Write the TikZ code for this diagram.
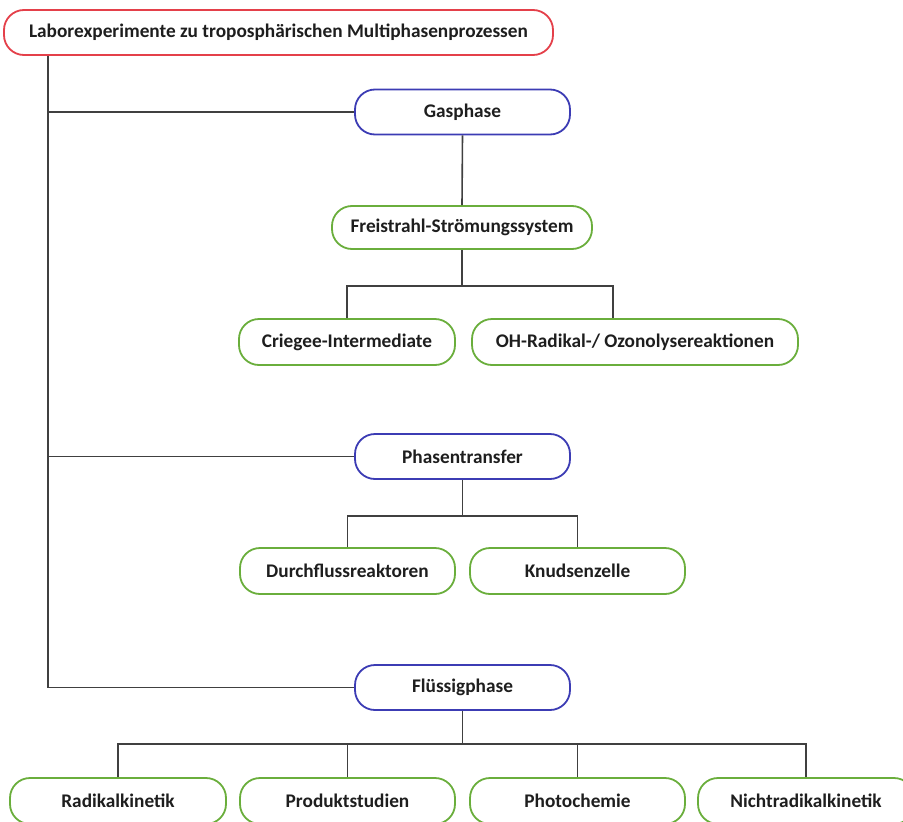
\documentclass[tikz,border=0pt]{standalone}
\usepackage{fontspec}
\setmainfont{Carlito}
\definecolor{cred}{HTML}{E4404A}
\definecolor{cblue}{HTML}{3C3CB4}
\definecolor{cgreen}{HTML}{6AAE3C}
\definecolor{cline}{HTML}{404040}
\definecolor{ctext}{HTML}{1E1E1E}
\begin{document}
\begin{tikzpicture}[x=1pt,y=-1pt,
  box/.style={draw, line width=1.8pt, rounded corners=20pt, fill=white, text=ctext,
    font=\fontsize{19.3}{22}\selectfont\bfseries, inner sep=0pt, minimum height=45pt},
  rootbox/.style={box, draw=cred},
  phasebox/.style={box, draw=cblue, minimum width=215pt},
  leafbox/.style={box, draw=cgreen},
  conn/.style={draw=cline, line width=1.6pt}]
\useasboundingbox (0,0) rectangle (903,822);
\clip (0,0) rectangle (903,822);
\node[rootbox, minimum width=549pt] (top) at (278.5,32.5) {Laborexperimente zu troposphärischen Multiphasenprozessen};
\node[phasebox] (gas) at (462.5,112) {Gasphase};
\node[leafbox, minimum width=260pt, minimum height=43pt] (frei) at (462,227.5) {Freistrahl-Strömungssystem};
\node[leafbox, minimum width=216pt, minimum height=46pt] (crie) at (347,342) {Criegee-Intermediate};
\node[leafbox, minimum width=326pt, minimum height=46pt] (oh) at (635,342) {OH-Radikal-/ Ozonolysereaktionen};
\node[phasebox] (phase) at (462.5,456.5) {Phasentransfer};
\node[leafbox, minimum width=215pt, minimum height=46pt] (durch) at (347.5,571) {Durchflussreaktoren};
\node[leafbox, minimum width=215pt, minimum height=46pt] (knud) at (577.5,571) {Knudsenzelle};
\node[phasebox] (flu) at (462.5,687.5) {Flüssigphase};
\node[leafbox, minimum width=216pt, minimum height=46pt] (rad) at (118,801) {Radikalkinetik};
\node[leafbox, minimum width=215pt, minimum height=46pt] (prod) at (347.5,801) {Produktstudien};
\node[leafbox, minimum width=215pt, minimum height=46pt] (photo) at (577.5,801) {Photochemie};
\node[leafbox, minimum width=216pt, minimum height=46pt] (nicht) at (806,801) {Nichtradikalkinetik};
\coordinate (tx) at (48,0);
\coordinate (b1) at (0,286);
\coordinate (b2) at (0,516);
\coordinate (b3) at (0,744);
\coordinate (ohc) at ([xshift=-22pt]oh.north);
% trunk
\draw[conn] (top.south -| tx) |- (flu.west);
\draw[conn] (tx |- gas.west) -- (gas.west);
\draw[conn] (tx |- phase.west) -- (phase.west);
% gasphase
\draw[conn] (gas.south) -- (frei.north);
\draw[conn] (frei.south) -- (frei.south |- b1);
\draw[conn] (crie.north) -- (crie.north |- b1) -- (b1 -| ohc) -- (ohc);
% phasentransfer
\draw[conn] (phase.south) -- (phase.south |- b2);
\draw[conn] (durch.north) -- (durch.north |- b2) -- (b2 -| knud.north) -- (knud.north);
% fluessigphase
\draw[conn] (flu.south) -- (flu.south |- b3);
\draw[conn] (rad.north) -- (rad.north |- b3) -- (b3 -| nicht.north) -- (nicht.north);
\draw[conn] (prod.north) -- (prod.north |- b3);
\draw[conn] (photo.north) -- (photo.north |- b3);
\end{tikzpicture}
\end{document}
